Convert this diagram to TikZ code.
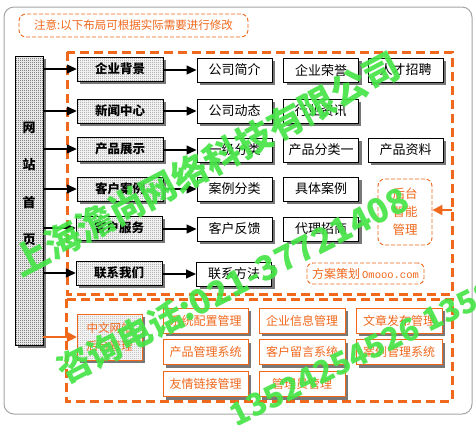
\documentclass[tikz,border=0pt]{standalone}
\usepackage{fontspec}
\setmainfont{Liberation Sans}
\newfontfamily\cjk{Noto Sans CJK SC}
\newfontfamily\monof{Liberation Mono}
\usetikzlibrary{arrows.meta,shadows,patterns.meta}
\definecolor{org}{RGB}{240,104,28}
\definecolor{wm}{RGB}{70,228,70}
\definecolor{framegray}{RGB}{165,165,165}
\definecolor{shadowgray}{RGB}{120,120,120}
\tikzdeclarepattern{
  name=checker,
  type=uncolored,
  tile size={(2pt,2pt)},
  bounding box={(0pt,0pt) and (2pt,2pt)},
  code={
    \pgfpathrectangle{\pgfpointorigin}{\pgfpoint{1pt}{1pt}}
    \pgfpathrectangle{\pgfpoint{1pt}{1pt}}{\pgfpoint{1pt}{1pt}}
    \pgfusepath{fill}
  }
}
\tikzset{
  shadowed/.style={drop shadow={shadow xshift=3pt, shadow yshift=-3pt, fill=shadowgray, opacity=1}},
  homebox/.style={shadowed, fill=white, inner sep=0pt, minimum width=28pt, minimum height=289pt,
    postaction={pattern={checker}, pattern color=black!75},
    postaction={draw=black, line width=1pt}},
  lvone/.style={shadowed, fill=white, inner sep=0pt, minimum width=86pt, minimum height=24pt,
    font=\cjk\bfseries\fontsize{12.5}{14}\selectfont,
    postaction={pattern={checker}, pattern color=black!45},
    postaction={draw=black, line width=1pt}},
  lvtwo/.style={shadowed, draw=black, line width=1pt, fill=white, inner sep=0pt,
    minimum width=75pt, minimum height=24pt, font=\cjk\fontsize{13}{15}\selectfont},
  admin/.style={shadowed, fill=white, inner sep=0pt, minimum width=65pt, minimum height=46pt,
    text=org, align=center, font=\cjk\fontsize{11.5}{18}\selectfont,
    postaction={pattern={checker}, pattern color=black!35},
    postaction={draw=org, line width=1pt}},
  sysbox/.style={shadowed, draw=org, line width=1pt, fill=white, inner sep=0pt, text=org,
    minimum width=86pt, minimum height=25pt, font=\cjk\fontsize{12}{14}\selectfont},
  panel/.style={draw=org, line width=3pt, dash pattern=on 9pt off 5pt},
  thindash/.style={draw=org, line width=0.9pt, dash pattern=on 4pt off 2pt, rounded corners=7pt},
  blackarrow/.style={draw=black, line width=1.3pt, -{Triangle[length=10pt,width=9pt]}},
  orangearrow/.style={draw=org, line width=2pt, -{Triangle[length=10pt,width=10pt]}},
  watermark/.style={text=wm, text opacity=0.92, inner sep=0pt, font=\cjk\bfseries\fontsize{#1}{#1}\selectfont}
}
\begin{document}
\begin{tikzpicture}[x=1pt,y=-1pt]
\useasboundingbox (0,0) rectangle (476,424);
\fill[white] (0,0) rectangle (476,424);
% outer frame
\draw[framegray, line width=1pt, rounded corners=10pt] (4,7) rectangle (472,414);
% note
\node[thindash, minimum width=229pt, minimum height=23pt, inner sep=0pt, text=org,
  font=\cjk\fontsize{11.5}{13}\selectfont] (note) at (133.5,25.5) {注意:以下布局可根据实际需要进行修改};
% panels
\draw[panel] (67,52) rectangle (452,294);
\draw[panel] (66,299) rectangle (452,401);
% home box
\node[homebox] (home) at (29,200.5) {};
\node[inner sep=0pt, align=center, font=\cjk\bfseries\fontsize{13}{37.5}\selectfont] (hometext) at (29,184) {网\\站\\首\\页};
% level one
\node[lvone] (a1) at (120,69) {企业背景};
\node[lvone] (a2) at (120,111) {新闻中心};
\node[lvone] (a3) at (120,149) {产品展示};
\node[lvone] (a4) at (120,189) {客户案例};
\node[lvone] (a5) at (119,228) {客户服务};
\node[lvone] (a6) at (119,273) {联系我们};
% level two
\node[lvtwo] (b11) at (234.5,70) {公司简介};
\node[lvtwo] (b12) at (321,70) {企业荣誉};
\node[lvtwo] (b13) at (405.5,70) {人才招聘};
\node[lvtwo] (b21) at (234.5,111) {公司动态};
\node[lvtwo] (b22) at (320.5,111) {行业资讯};
\node[lvtwo] (b31) at (234.5,150) {一级分类};
\node[lvtwo] (b32) at (321,150) {产品分类一};
\node[lvtwo] (b33) at (405.5,150) {产品资料};
\node[lvtwo] (b41) at (234.5,189) {案例分类};
\node[lvtwo] (b42) at (321,189) {具体案例};
\node[lvtwo] (b51) at (234.5,229) {客户反馈};
\node[lvtwo] (b52) at (321,229) {代理招商};
\node[lvtwo] (b61) at (234,274) {联系方法};
% arrows home -> level one
\foreach \n in {a1,a2,a3,a4,a5,a6}
  \draw[blackarrow] (home.east |- \n.west) -- (\n.west);
\foreach \a/\b in {a1/b11,a2/b21,a3/b31,a4/b41,a5/b51,a6/b61}
  \draw[blackarrow] (\a.east |- \b.west) -- (\b.west);
% smart admin
\node[thindash, minimum width=54pt, minimum height=66pt, inner sep=0pt, text=org, align=center,
  font=\cjk\fontsize{12.5}{18}\selectfont] (smart) at (405,212) {后台\\智能\\管理};
\coordinate (smartsrc) at (452,210);
\draw[orangearrow] (smartsrc) -- (smart.east |- smartsrc);
% plan label
\node[thindash, minimum width=117pt, minimum height=21pt, inner sep=0pt, text=org,
  rounded corners=6pt] (plan) at (365.5,273.5) {\cjk\fontsize{12}{14}\selectfont 方案策划\,\monof\fontsize{10.5}{14}\selectfont Omooo.com};
% bottom panel
\node[admin] (cn) at (109.5,337) {中文网站\\后台管理};
\draw[orangearrow] (home.east |- cn.west) -- (cn.west);
\node[sysbox, minimum width=85pt] (c11) at (205.5,320.5) {系统配置管理};
\node[sysbox] (c12) at (302,320.5) {企业信息管理};
\node[sysbox] (c13) at (399,320.5) {文章发布管理};
\node[sysbox, minimum width=85pt] (c21) at (205.5,352) {产品管理系统};
\node[sysbox] (c22) at (302,352) {客户留言系统};
\node[sysbox] (c23) at (399,352) {案例管理系统};
\node[sysbox, minimum width=85pt] (c31) at (205.5,384) {友情链接管理};
\node[sysbox] (c32) at (302,384) {管理员管理};
% watermark
\node[watermark=36, rotate=28] (wm1) at (206,164) {上海澹尚网络科技有限公司};
\node[watermark=34, rotate=27, anchor=west] (wm2) at (59,373) {咨询电话:021-37721408};
\node[watermark=31, rotate=26, anchor=west] (wm3) at (231,417) {13524254526 1358};
\end{tikzpicture}
\end{document}
